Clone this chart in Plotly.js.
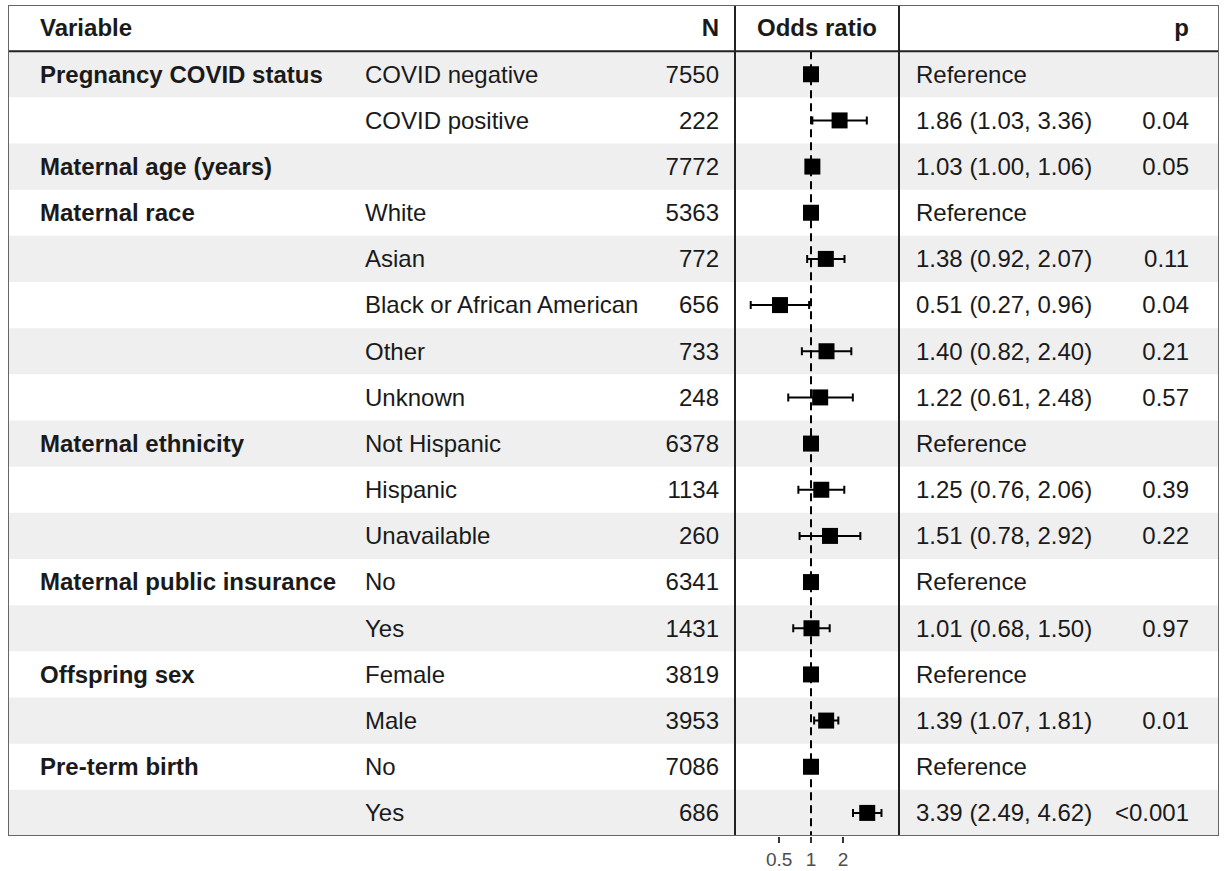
<!DOCTYPE html>
<html>
<head>
<meta charset="utf-8">
<script src="https://cdn.plot.ly/plotly-3.0.1.min.js"></script>
<style>html,body{margin:0;padding:0;background:#fff;}#chart{width:1224px;height:871px;}</style>
</head>
<body>
<div id="chart"></div>
<script>
// ---- data ----
const variables = ["Pregnancy COVID status","","Maternal age (years)","Maternal race","","","","","Maternal ethnicity","","","Maternal public insurance","","Offspring sex","","Pre-term birth",""];
const levels = ["COVID negative","COVID positive","","White","Asian","Black or African American","Other","Unknown","Not Hispanic","Hispanic","Unavailable","No","Yes","Female","Male","No","Yes"];
const nValues = [7550,222,7772,5363,772,656,733,248,6378,1134,260,6341,1431,3819,3953,7086,686];
const estimates = [1,1.86,1.03,1,1.38,0.51,1.40,1.22,1,1.25,1.51,1,1.01,1,1.39,1,3.39];
const ciLow = [null,1.03,1.00,null,0.92,0.27,0.82,0.61,null,0.76,0.78,null,0.68,null,1.07,null,2.49];
const ciHigh = [null,3.36,1.06,null,2.07,0.96,2.40,2.48,null,2.06,2.92,null,1.50,null,1.81,null,4.62];
const pValues = ["","0.04","0.05","","0.11","0.04","0.21","0.57","","0.39","0.22","","0.97","","0.01","","<0.001"];
const headers = ["Variable","N","Odds ratio","p"];
const tickValues = [0.5,1,2];
const tickLabels = ["0.5","1","2"];

// ---- layout constants ----
const W = 1224, H = 871;
const L = 8, R = 1219, T = 5, B = 836;
const colVar = 40, colLevel = 365, colN = 719, colOR0 = 735, colOR1 = 899, colEst = 916, colP = 1189;
const FONT = "Liberation Sans, Arial, sans-serif";
const FS = 24;
const TXT = "#1a1a1a";
const TY = 0.05; // small vertical nudge so text sits at the row centre

const rows = nValues.map((_, i) => i);
const textRows = rows.map(r => r + TY);
const estText = estimates.map((e, i) => ciLow[i] === null ? "Reference" :
  e.toFixed(2) + " (" + ciLow[i].toFixed(2) + ", " + ciHigh[i].toFixed(2) + ")");

function textTrace(xs, texts, ys, pos, bold) {
  return {
    type: "scatter", mode: "text", xaxis: "x", yaxis: "y",
    x: xs, y: ys, text: texts,
    textposition: pos, hoverinfo: "skip", showlegend: false,
    textfont: {family: FONT, size: FS, color: TXT, weight: bold ? "bold" : "normal"},
    cliponaxis: false
  };
}
const col = (xpos) => rows.map(() => xpos);

const traces = [
  textTrace([colVar, colN, (colOR0 + colOR1) / 2, colP], headers, headers.map(() => -1 + TY),
    ["middle right", "middle left", "middle center", "middle left"], true),
  textTrace(col(colVar), variables, textRows, "middle right", true),
  textTrace(col(colLevel), levels, textRows, "middle right", false),
  textTrace(col(colN), nValues.map(String), textRows, "middle left", false),
  textTrace(col(colEst), estText, textRows, "middle right", false),
  textTrace(col(colP), pValues, textRows, "middle left", false),
  {
    type: "scatter", mode: "markers", xaxis: "x2", yaxis: "y",
    x: estimates, y: rows, hoverinfo: "skip", showlegend: false,
    marker: {symbol: "square", size: 16, color: "#000"},
    error_x: {
      type: "data", symmetric: false,
      array: estimates.map((e, i) => ciHigh[i] === null ? 0 : ciHigh[i] - e),
      arrayminus: estimates.map((e, i) => ciLow[i] === null ? 0 : e - ciLow[i]),
      color: "#000", thickness: 2, width: 4
    }
  }
];

const shapes = [];
rows.forEach(i => {
  if (i % 2 === 0) {
    shapes.push({type: "rect", xref: "x", yref: "y", x0: L, x1: R, y0: i - 0.5, y1: i + 0.5,
      fillcolor: "#efefef", line: {width: 0}, layer: "below"});
  }
});
shapes.push({type: "line", xref: "x2", yref: "y", x0: 1, x1: 1, y0: -0.5, y1: 16.5,
  line: {color: "#000", width: 2, dash: "8px,5px"}, layer: "below"});
shapes.push({type: "line", xref: "x", yref: "y", x0: L, x1: R, y0: -0.5, y1: -0.5,
  line: {color: "#222", width: 2}});
[colOR0, colOR1].forEach(xv => shapes.push({type: "line", xref: "x", yref: "y",
  x0: xv, x1: xv, y0: -1.5, y1: 16.5, line: {color: "#222", width: 2}}));
shapes.push({type: "rect", xref: "x", yref: "y", x0: L, x1: R, y0: -1.5, y1: 16.5,
  line: {color: "#666", width: 2}, fillcolor: "rgba(0,0,0,0)"});

const plotW = R - L;
const layout = {
  width: W, height: H,
  margin: {l: L, r: W - R, t: T, b: H - B, pad: 0},
  paper_bgcolor: "#fff", plot_bgcolor: "rgba(0,0,0,0)",
  showlegend: false,
  xaxis: {range: [L, R], domain: [0, 1], visible: false, fixedrange: true},
  xaxis2: {
    type: "log", anchor: "y", domain: [(colOR0 - L) / plotW, (colOR1 - L) / plotW],
    range: [-0.717, 0.830], showgrid: false, zeroline: false, showline: false,
    tickvals: tickValues, ticktext: tickLabels, ticks: "outside", ticklen: 6, tickwidth: 2,
    tickcolor: "#333", tickfont: {family: FONT, size: 19, color: "#4d4d4d"}
  },
  yaxis: {range: [16.5, -1.5], visible: false, fixedrange: true, domain: [0, 1]},
  shapes: shapes
};

Plotly.newPlot("chart", traces, layout, {displayModeBar: false, staticPlot: true});
</script>
</body>
</html>
